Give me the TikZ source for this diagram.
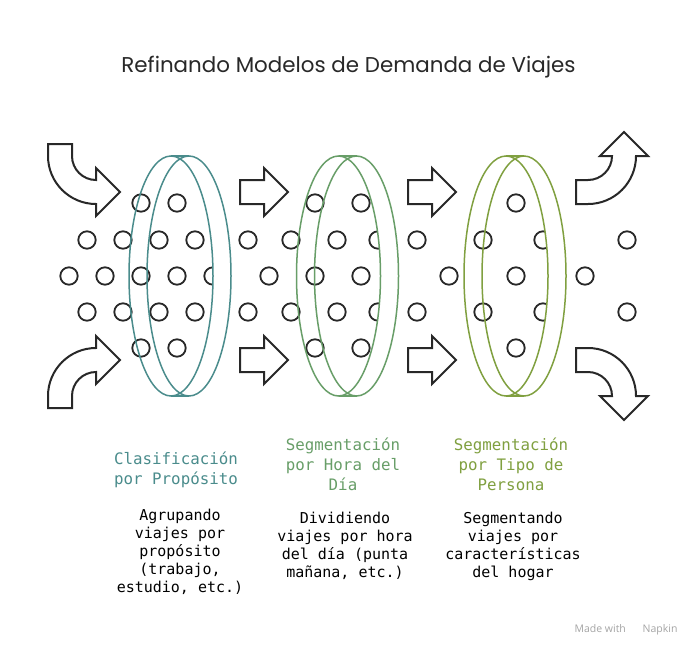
\documentclass[tikz,border=0pt]{standalone}
\usepackage{fontspec}
\setmainfont{Poppins}
\newfontfamily\monofont{DejaVu Sans Mono}
\newfontfamily\markfont{Open Sans}
\usetikzlibrary{positioning}
\definecolor{myteal}{RGB}{74,140,140}
\definecolor{mygreen}{RGB}{104,158,104}
\definecolor{myolive}{RGB}{128,160,64}
\definecolor{mydark}{RGB}{40,40,40}
\definecolor{mygray}{RGB}{165,165,165}

\begin{document}
\begin{tikzpicture}[
  x=1pt, y=-1pt,
  dot/.style={draw=mydark, line width=1.8pt},
  arrowline/.style={draw=mydark, line width=2pt, fill=white},
  ring/.style={draw=#1, line width=1.5pt},
  heading/.style={font=\monofont\fontsize{15.8}{20}\selectfont, align=center, inner sep=0pt},
  body/.style={font=\monofont\fontsize{15}{18}\selectfont, text=black, align=center, inner sep=0pt},
  bendarrow/.pic={
    \draw[arrowline] (0,0) -- (24,0) -- (24,12) .. controls (24,25.25) and (34.75,36) .. (48,36)
      -- (48,24) -- (72,48) -- (48,72) -- (48,60) .. controls (21.5,60) and (0,38.5) .. (0,12) -- cycle;
  },
  flatarrow/.pic={
    \draw[arrowline] (0,-12) -- (24,-12) -- (24,-24) -- (48,0) -- (24,24) -- (24,12) -- (0,12) -- cycle;
  }
]
\fill[white] (0,0) rectangle (696,648);
\useasboundingbox (0,0) rectangle (696,648);

\node[font=\fontsize{21.4}{24}\selectfont, text=mydark, anchor=base] (title) at (348.5,72)
  {Refinando Modelos de Demanda de Viajes};

% arrows in and out
\path (48,144) pic {bendarrow};
\path (48,408) pic[y={(0pt,1pt)}] {bendarrow};
\path (576,204) pic[x={(0pt,1pt)}, y={(1pt,0pt)}] {bendarrow};
\path (576,348) pic[x={(0pt,-1pt)}, y={(1pt,0pt)}] {bendarrow};
\foreach \ax/\ay in {240/192, 240/360, 408/192, 408/360}
  \path (\ax,\ay) pic {flatarrow};

% dots
\foreach \px/\py in {141/203, 177/203, 87/240, 123/240, 159/240, 195/240,
  69/276, 105/276, 141/276, 177/276, 87/312, 123/312, 159/312, 195/312, 141/348, 177/348,
  315/203, 361/203, 248/240, 291/240, 337/240, 417/240, 269/276, 315/276, 361/276,
  248/312, 291/312, 337/312, 417/312, 315/348, 361/348,
  516/203, 483/240, 627/240, 449/276, 516/276, 585/276, 483/312, 627/312, 516/348}
  \draw[dot] (\px,\py) circle [radius=8.7];

\foreach \cx/\px/\py in {171/213/276, 338.5/378/240, 338.5/378/312, 506/543/240, 506/543/312}
{
  \begin{scope}
    \clip (\cx,276) ellipse [x radius=42, y radius=120];
    \draw[dot] (\px,\py) circle [radius=8.7];
  \end{scope}
}

% rings
\foreach \cx/\col in {171/myteal, 338.5/mygreen, 506/myolive}
{
  \draw[ring=\col] (\cx,276) ellipse [x radius=42, y radius=120];
  \draw[ring=\col] (\cx+18,276) ellipse [x radius=42, y radius=120];
  \draw[ring=\col] (\cx,156) -- (\cx+18,156);
  \draw[ring=\col] (\cx,396) -- (\cx+18,396);
}

% labels
\node[heading, text=myteal] (headone) at (176,470) {Clasificación\\por Propósito};
\node[heading, text=mygreen] (headtwo) at (343,464) {Segmentación\\por Hora del\\Día};
\node[heading, text=myolive] (headthree) at (511,464) {Segmentación\\por Tipo de\\Persona};

\node[body] (bodyone) at (180,552) {Agrupando\\viajes por\\propósito\\(trabajo,\\estudio, etc.)};
\node[body] (bodytwo) at (345,546) {Dividiendo\\viajes por hora\\del día (punta\\mañana, etc.)};
\node[body] (bodythree) at (513,546) {Segmentando\\viajes por\\características\\del hogar};

\node[font=\markfont\fontsize{10.5}{12}\selectfont, text=mygray, anchor=east] (mark) at (681,630)
  {Made with \hspace{14pt}Napkin};
\end{tikzpicture}
\end{document}
